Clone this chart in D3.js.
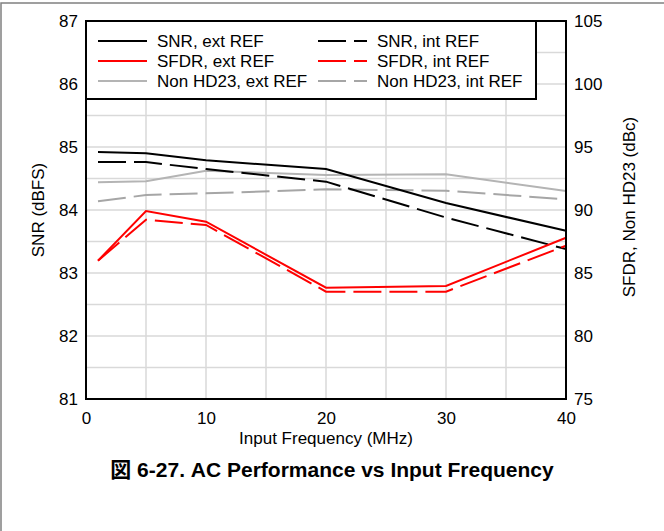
<!DOCTYPE html>
<html><head><meta charset="utf-8">
<script src="https://cdn.jsdelivr.net/npm/d3@7"></script>
<style>
body{margin:0;background:#fff;}
svg{display:block;font-family:"Liberation Sans",Arial,"Noto Sans CJK JP",sans-serif;}
</style></head>
<body>
<svg id="chart" width="664" height="531"></svg>
<script>
// ---- data ----
const freqs = [1, 5, 10, 20, 30, 40];
const snrExt = [84.92, 84.90, 84.79, 84.65, 84.11, 83.67];
const snrInt = [84.76, 84.76, 84.65, 84.45, 83.88, 83.38];
const sfdrExt = [85.98, 89.92, 89.07, 83.83, 83.97, 87.80];
const sfdrInt = [85.98, 89.23, 88.81, 83.52, 83.52, 87.17];
const nonHdExt = [92.2, 92.28, 93.12, 92.78, 92.83, 91.5];
const nonHdInt = [90.69, 91.19, 91.32, 91.64, 91.53, 90.85];
const xTicks = [0, 10, 20, 30, 40];
const yLeftTicks = [81, 82, 83, 84, 85, 86, 87];
const yRightTicks = [75, 80, 85, 90, 95, 100, 105];
const seriesNames = ["SNR, ext REF", "SNR, int REF", "SFDR, ext REF", "SFDR, int REF", "Non HD23, ext REF", "Non HD23, int REF"];
const caption = "図 6-27. AC Performance vs Input Frequency";

const svg = d3.select("#chart");
const L = 86, R = 566, T = 21, B = 399;
const x = d3.scaleLinear().domain([0, 40]).range([L, R]);
const yL = d3.scaleLinear().domain([81, 87]).range([B, T]);
const yR = d3.scaleLinear().domain([75, 105]).range([B, T]);

// outer frame
svg.append("rect").attr("x", 1).attr("y", 3).attr("width", 700).attr("height", 600)
  .attr("fill", "none").attr("stroke", "#808080").attr("stroke-width", 1.5);

// grid
const g = svg.append("g");
g.selectAll(".vg").data(d3.range(5, 40, 5)).join("line")
  .attr("x1", d => x(d)).attr("x2", d => x(d)).attr("y1", T).attr("y2", B)
  .attr("stroke", "#d9d9d9").attr("stroke-width", 1.5);
g.selectAll(".hg").data(d3.range(81.5, 87, 0.5)).join("line")
  .attr("x1", L).attr("x2", R).attr("y1", d => yL(d)).attr("y2", d => yL(d))
  .attr("stroke", "#d9d9d9").attr("stroke-width", 1.5);

// series
const series = [
  {name: seriesNames[0], vals: snrExt, scale: yL, color: "#000000", dash: null},
  {name: seriesNames[1], vals: snrInt, scale: yL, color: "#000000", dash: "28,8"},
  {name: seriesNames[2], vals: sfdrExt, scale: yR, color: "#ff0000", dash: null},
  {name: seriesNames[3], vals: sfdrInt, scale: yR, color: "#ff0000", dash: "28,8"},
  {name: seriesNames[4], vals: nonHdExt, scale: yR, color: "#b4b4b4", dash: null},
  {name: seriesNames[5], vals: nonHdInt, scale: yR, color: "#a6a6a6", dash: "28,8"}
];
const drawOrder = [4, 5, 0, 1, 2, 3];
drawOrder.forEach(i => {
  const s = series[i];
  const line = d3.line().x((d, j) => x(freqs[j])).y(d => s.scale(d));
  svg.append("path").attr("d", line(s.vals)).attr("fill", "none")
    .attr("stroke", s.color).attr("stroke-width", 2)
    .attr("stroke-dasharray", s.dash);
});

// legend
svg.append("rect").attr("x", L).attr("y", T).attr("width", 450).attr("height", 78)
  .attr("fill", "#fff").attr("stroke", "#000").attr("stroke-width", 2);
series.forEach((s, i) => {
  const col = i % 2, row = Math.floor(i / 2);
  const lx = col === 0 ? 98 : 318;
  const ly = 41 + row * 20;
  svg.append("line").attr("x1", lx).attr("x2", lx + 49).attr("y1", ly).attr("y2", ly)
    .attr("stroke", s.color).attr("stroke-width", 2).attr("stroke-dasharray", s.dash);
  svg.append("text").attr("x", lx + 59).attr("y", ly).attr("dy", "0.35em")
    .attr("font-size", 17).attr("fill", "#000").text(s.name);
});

// plot frame
svg.append("rect").attr("x", L).attr("y", T).attr("width", R - L).attr("height", B - T)
  .attr("fill", "none").attr("stroke", "#000").attr("stroke-width", 2);

// axes (labels only)
const axB = svg.append("g").attr("transform", `translate(0,${B})`)
  .call(d3.axisBottom(x).tickValues(xTicks).tickSize(0).tickPadding(13));
const axLft = svg.append("g").attr("transform", `translate(${L},0)`)
  .call(d3.axisLeft(yL).tickValues(yLeftTicks).tickSize(0).tickPadding(8).tickFormat(d3.format("d")));
const axRt = svg.append("g").attr("transform", `translate(${R},0)`)
  .call(d3.axisRight(yR).tickValues(yRightTicks).tickSize(0).tickPadding(8).tickFormat(d3.format("d")));
[axB, axLft, axRt].forEach(a => {
  a.select(".domain").remove();
  a.selectAll("text").attr("font-size", 17).attr("fill", "#000")
    .attr("font-family", "'Liberation Sans', Arial, sans-serif");
});

// axis titles
svg.append("text").attr("x", (L + R) / 2).attr("y", 444).attr("text-anchor", "middle")
  .attr("font-size", 17).text("Input Frequency (MHz)");
svg.append("text").attr("transform", `translate(44,${(T + B) / 2}) rotate(-90)`)
  .attr("text-anchor", "middle").attr("font-size", 17).text("SNR (dBFS)");
svg.append("text").attr("transform", `translate(635,${(T + B) / 2 - 3}) rotate(-90)`)
  .attr("text-anchor", "middle").attr("font-size", 17).text("SFDR, Non HD23 (dBc)");

// caption
svg.append("text").attr("x", 332).attr("y", 477).attr("text-anchor", "middle")
  .attr("font-size", 21).attr("font-weight", "bold").text(caption);
</script>
</body></html>
